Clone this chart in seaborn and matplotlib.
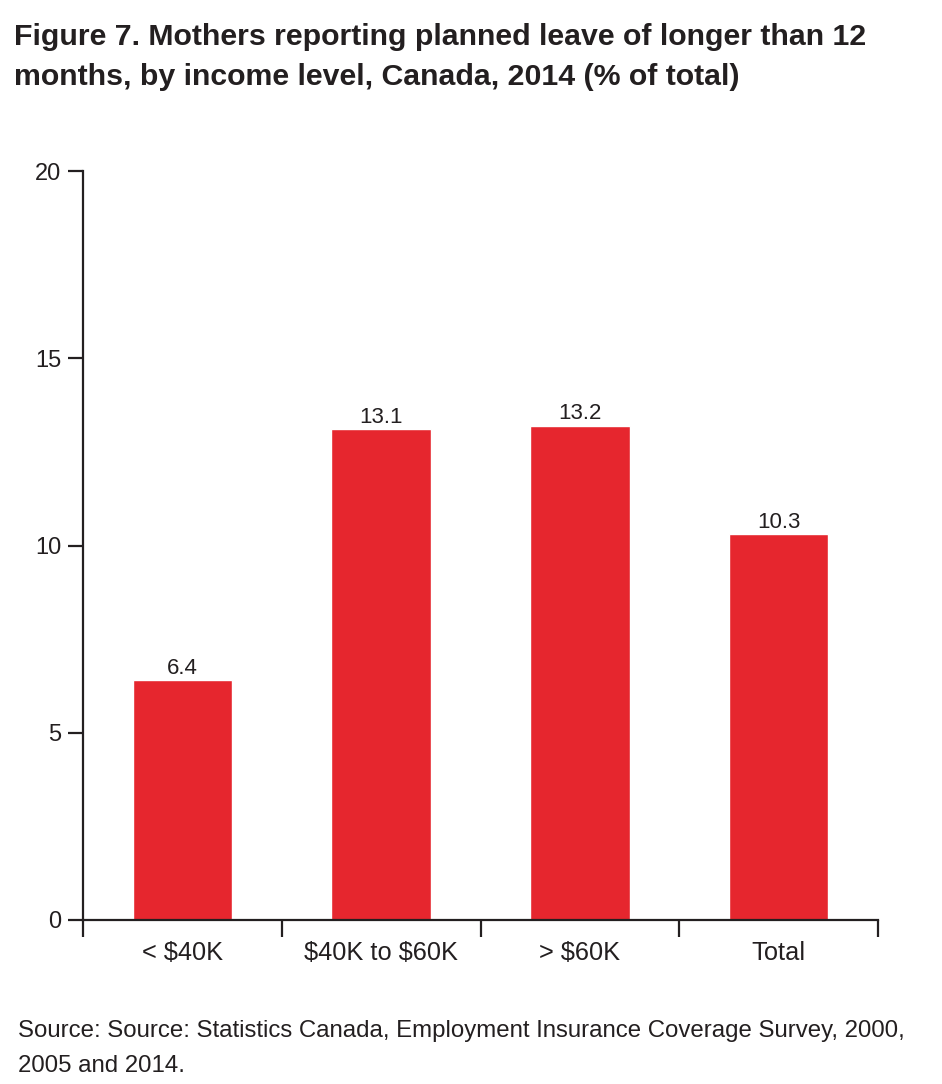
import matplotlib
matplotlib.use("Agg")
import matplotlib.pyplot as plt
import seaborn as sns
import pandas as pd

categories = ["< $40K", "$40K to $60K", "> $60K", "Total"]
values = [6.4, 13.1, 13.2, 10.3]
yticks = [0, 5, 10, 15, 20]

sns.set_style("ticks")
plt.rcParams['font.family'] = ['Liberation Sans', 'DejaVu Sans']
plt.rcParams['text.parse_math'] = False

df = pd.DataFrame({"cat": categories, "val": values})

fig = plt.figure(figsize=(9.42, 10.84), dpi=100)
ax = fig.add_axes([83/942, 1-920/1084, (878-83)/942, (920-171)/1084])
sns.barplot(data=df, x="cat", y="val", color="#E6262E", saturation=1, width=0.5, ax=ax)
ax.set_xlim(-0.5, 3.5)
ax.set_ylim(0, 20)
ax.set_yticks(yticks)
ax.set_xlabel("")
ax.set_ylabel("")
for s in ["top", "right"]:
    ax.spines[s].set_visible(False)
for s in ["left", "bottom"]:
    ax.spines[s].set_linewidth(1.6)
    ax.spines[s].set_color("#231F20")
ax.tick_params(axis='y', length=11, width=1.6, color="#231F20", labelsize=17, pad=4.5, labelcolor="#231F20")
ax.tick_params(axis='x', which='major', length=0, labelsize=18.3, pad=15, labelcolor="#231F20")
ax.set_xticks([-0.5, 0.5, 1.5, 2.5, 3.5], minor=True)
ax.tick_params(axis='x', which='minor', length=12, width=1.6, color="#231F20")

for c in ax.containers:
    ax.bar_label(c, labels=[f"{v:.1f}" for v in values], fontsize=16, padding=1, color="#231F20")

title_lines = ["Figure 7. Mothers reporting planned leave of longer than 12",
               "months, by income level, Canada, 2014 (% of total)"]
for i, line in enumerate(title_lines):
    fig.text(14/942, 1-(45+40*i)/1084, line, fontweight='bold', fontsize=21.8,
             color="#231F20", va='baseline')
source_lines = ["Source: Source: Statistics Canada, Employment Insurance Coverage Survey, 2000,",
                "2005 and 2014."]
for i, line in enumerate(source_lines):
    fig.text(18/942, 1-(1037+35*i)/1084, line, fontsize=17.3, color="#231F20", va='baseline')

fig.savefig("out.png", dpi=100)
